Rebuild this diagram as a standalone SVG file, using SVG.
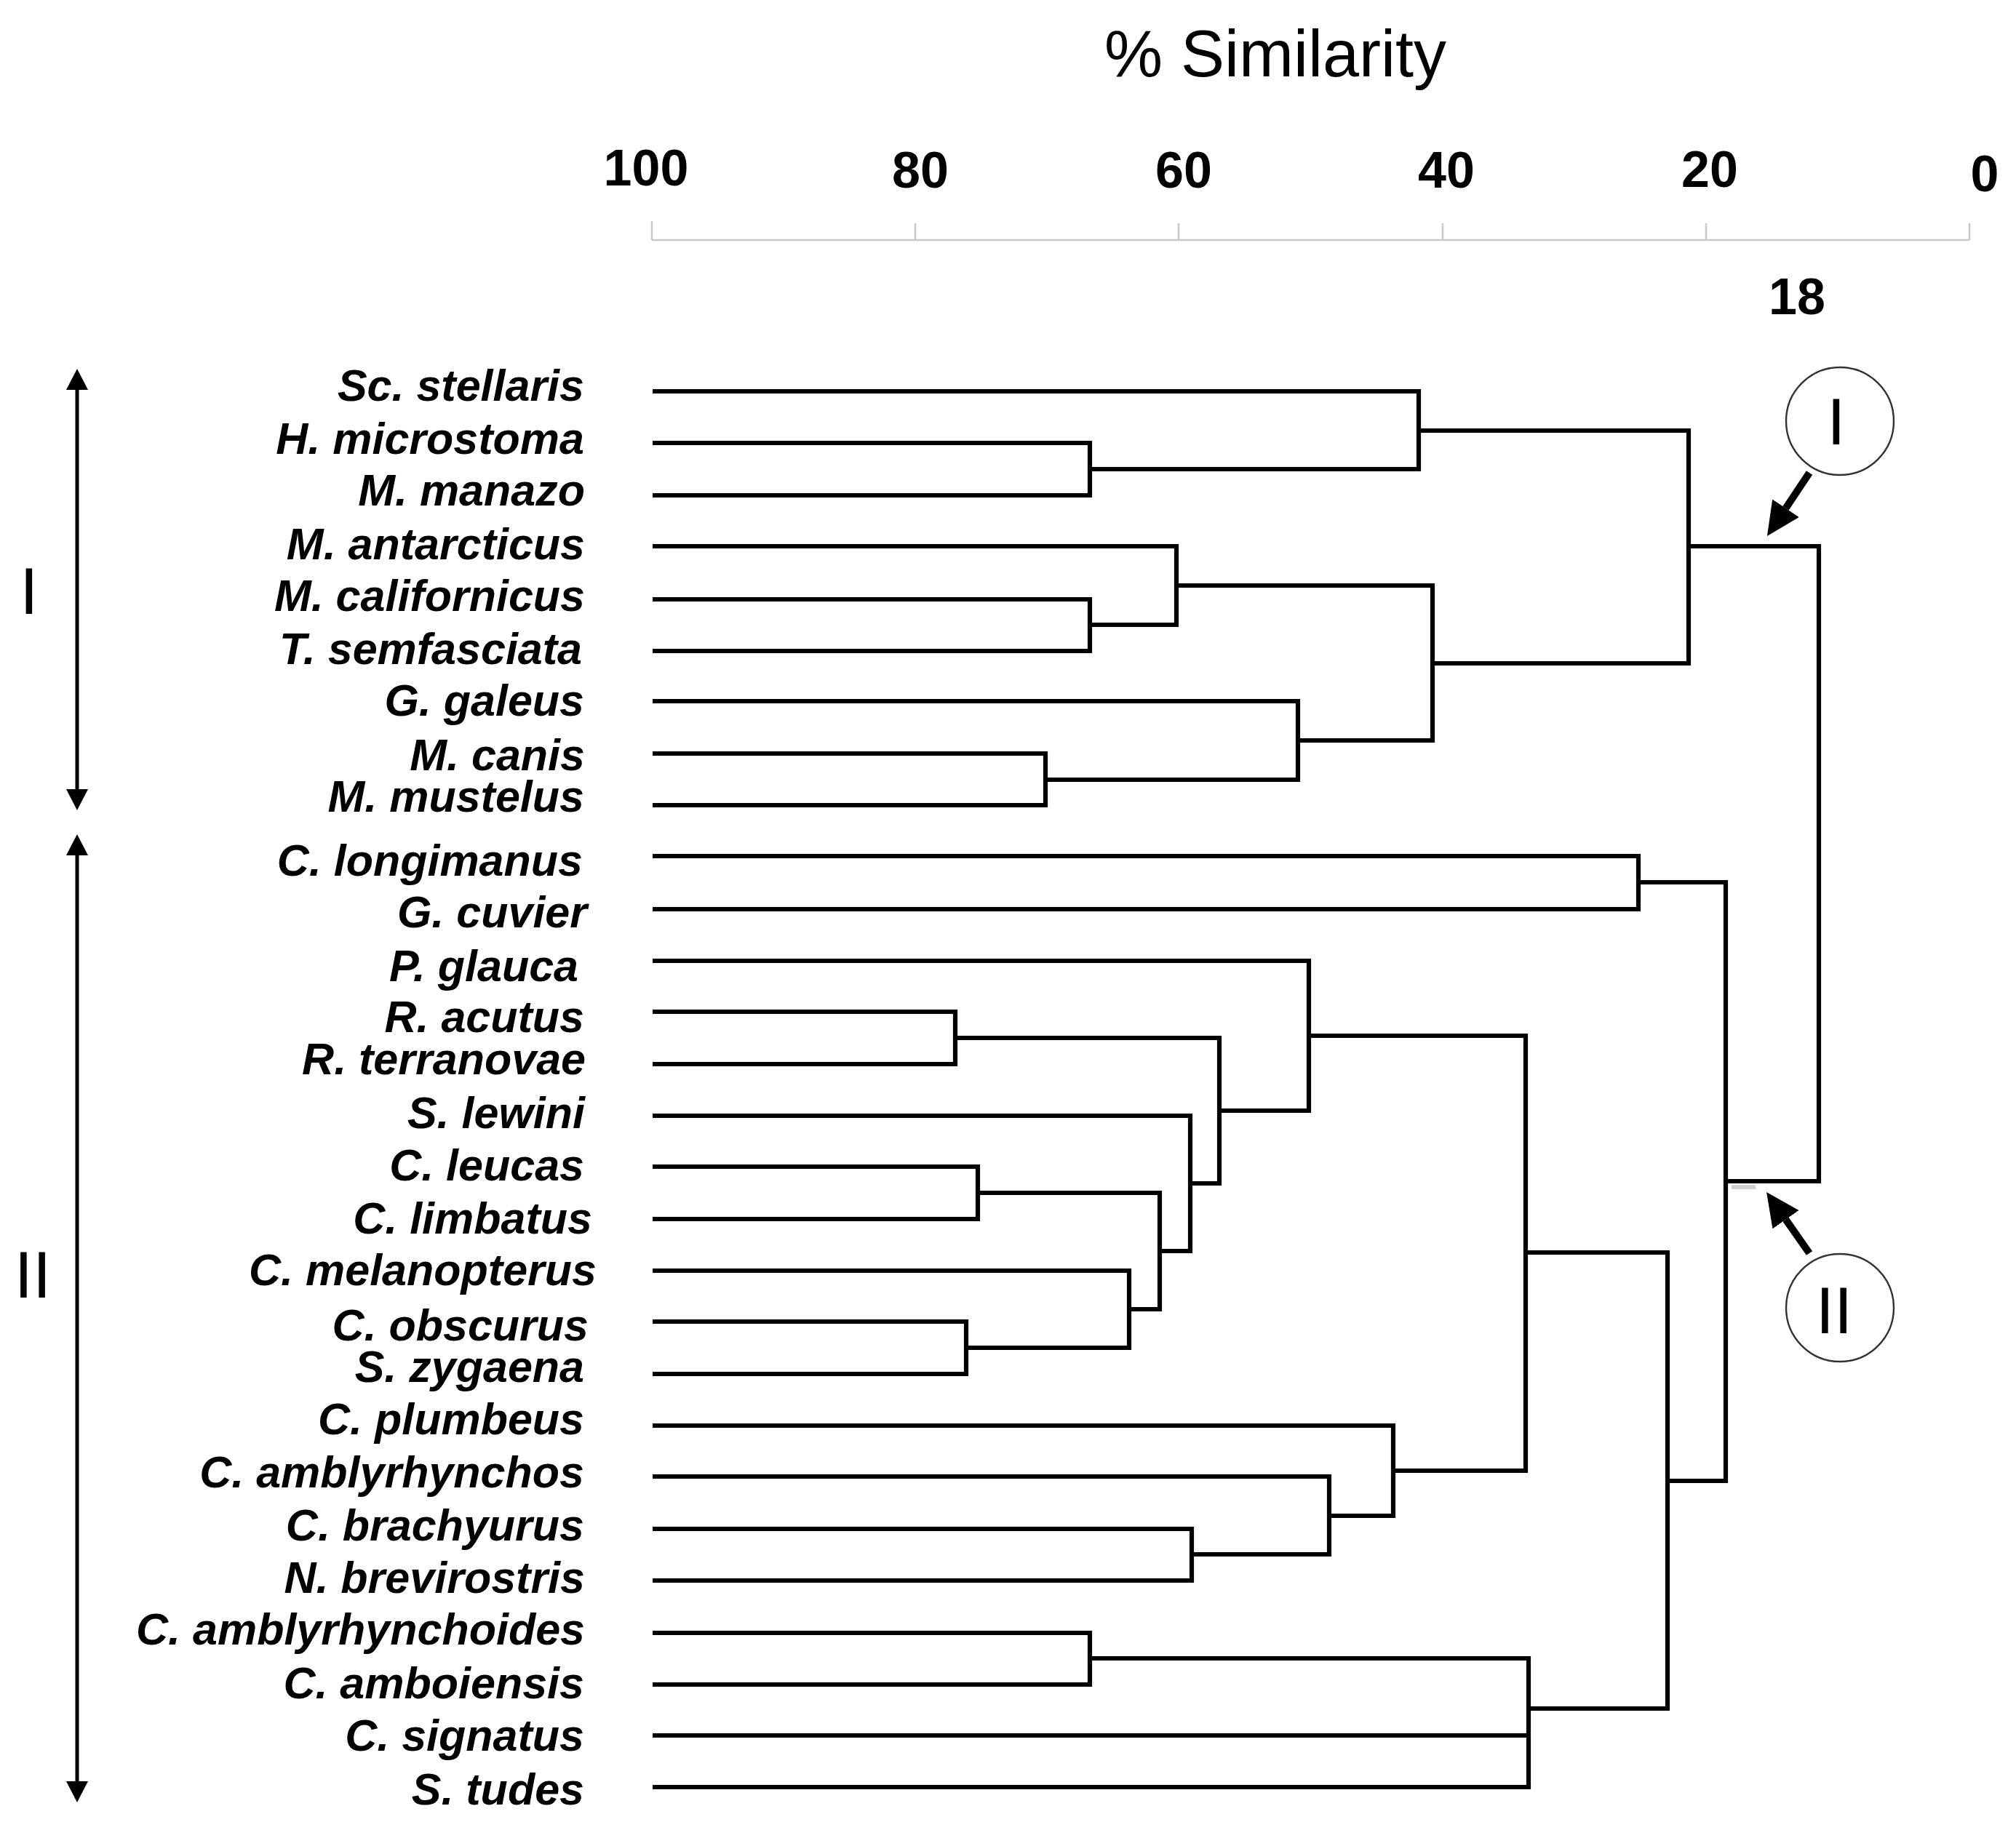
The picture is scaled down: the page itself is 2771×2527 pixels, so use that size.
<svg xmlns="http://www.w3.org/2000/svg" width="2771" height="2527" viewBox="0 0 2771 2527">
<style>
.lbl{font-family:"Liberation Sans",Arial,sans-serif;font-weight:bold;font-style:italic;font-size:61px;fill:#000;text-anchor:end}
.tick{font-family:"Liberation Sans",Arial,sans-serif;font-weight:bold;font-size:70px;fill:#000;text-anchor:middle}
.title{font-family:"Liberation Sans",Arial,sans-serif;font-size:90px;fill:#000;text-anchor:middle}
.roman{font-family:"Liberation Sans",Arial,sans-serif;font-size:91px;fill:#000;text-anchor:middle}
.tree path{fill:none;stroke:#000;stroke-width:6.2;stroke-linejoin:miter}
.axis{stroke:#c8c8c8;stroke-width:2.5;fill:none}
.ring{fill:none;stroke:#333;stroke-width:2.4}
</style>
<defs>
<marker id="headS" viewBox="0 0 29 30" refX="0" refY="15" markerWidth="29" markerHeight="30" markerUnits="userSpaceOnUse" orient="auto-start-reverse">
<path d="M0,0 L29,15 L0,30 z" fill="#000"/>
</marker>
<marker id="headL" viewBox="0 0 46 44" refX="0" refY="22" markerWidth="46" markerHeight="44" markerUnits="userSpaceOnUse" orient="auto">
<path d="M0,0 L46,22 L0,44 z" fill="#000"/>
</marker>
</defs>
<rect width="2771" height="2527" fill="#fff"/>

<g id="axis">
<text class="title" x="1753" y="105">% Similarity</text>
<text class="tick" x="888" y="255">100</text>
<text class="tick" x="1265" y="258">80</text>
<text class="tick" x="1627" y="258">60</text>
<text class="tick" x="1988" y="258">40</text>
<text class="tick" x="2350" y="257">20</text>
<text class="tick" x="2728" y="263">0</text>
<path class="axis" d="M896,330 H2707 M896,304 V330 M1258,307 V330 M1620,307 V330 M1983,307 V330 M2345,307 V330 M2707,307 V330"/>
<text class="tick" x="2470" y="432">18</text>
</g>

<g id="group-arrows">
<line x1="106" y1="536" x2="106" y2="1085" stroke="#000" stroke-width="5" marker-start="url(#headS)" marker-end="url(#headS)"/>
<text class="roman" x="40" y="844">I</text>
<line x1="106" y1="1176" x2="106" y2="2449" stroke="#000" stroke-width="5" marker-start="url(#headS)" marker-end="url(#headS)"/>
<text class="roman" x="45" y="1784">II</text>
</g>

<g id="leaves">
<g id="n1"><text class="lbl" x="803" y="551">Sc. stellaris</text></g>
<g id="n2"><text class="lbl" x="803" y="624">H. microstoma</text></g>
<g id="n3"><text class="lbl" x="804" y="695">M. manazo</text></g>
<g id="n4"><text class="lbl" x="804" y="769">M. antarcticus</text></g>
<g id="n5"><text class="lbl" x="804" y="840">M. californicus</text></g>
<g id="n6"><text class="lbl" x="800" y="913">T. semfasciata</text></g>
<g id="n7"><text class="lbl" x="803" y="984">G. galeus</text></g>
<g id="n8"><text class="lbl" x="804" y="1059">M. canis</text></g>
<g id="n9"><text class="lbl" x="803" y="1116">M. mustelus</text></g>
<g id="n10"><text class="lbl" x="801" y="1204">C. longimanus</text></g>
<g id="n11"><text class="lbl" x="807" y="1275">G. cuvier</text></g>
<g id="n12"><text class="lbl" x="795" y="1349">P. glauca</text></g>
<g id="n13"><text class="lbl" x="803" y="1419">R. acutus</text></g>
<g id="n14"><text class="lbl" x="805" y="1477">R. terranovae</text></g>
<g id="n15"><text class="lbl" x="804" y="1551">S. lewini</text></g>
<g id="n16"><text class="lbl" x="803" y="1623">C. leucas</text></g>
<g id="n17"><text class="lbl" x="814" y="1696">C. limbatus</text></g>
<g id="n18"><text class="lbl" x="820" y="1767">C. melanopterus</text></g>
<g id="n19"><text class="lbl" x="809" y="1843">C. obscurus</text></g>
<g id="n20"><text class="lbl" x="803" y="1900">S. zygaena</text></g>
<g id="n21"><text class="lbl" x="803" y="1972">C. plumbeus</text></g>
<g id="n22"><text class="lbl" x="803" y="2045">C. amblyrhynchos</text></g>
<g id="n23"><text class="lbl" x="803" y="2118">C. brachyurus</text></g>
<g id="n24"><text class="lbl" x="804" y="2190">N. brevirostris</text></g>
<g id="n25"><text class="lbl" x="804" y="2261">C. amblyrhynchoides</text></g>
<g id="n26"><text class="lbl" x="803" y="2335">C. amboiensis</text></g>
<g id="n27"><text class="lbl" x="803" y="2407">C. signatus</text></g>
<g id="n28"><text class="lbl" x="803" y="2481">S. tudes</text></g>
</g>

<g id="connectors" class="tree">
<path d="M897,609 H1498 V681 H897"/>
<path d="M897,538 H1950 V645 H1498"/>
<path d="M897,824 H1498 V895 H897"/>
<path d="M897,751 H1617 V859 H1498"/>
<path d="M897,1036 H1437 V1107 H897"/>
<path d="M897,964 H1784 V1072 H1437"/>
<path d="M1617,805 H1969 V1018 H1784"/>
<path d="M1950,592 H2321 V912 H1969"/>
<path d="M2321,751 H2500 V1624 H2372"/>
<path d="M897,1177 H2252 V1250 H897"/>
<path d="M897,1391 H1313 V1463 H897"/>
<path d="M897,1817 H1328 V1889 H897"/>
<path d="M897,1747 H1552 V1853 H1328"/>
<path d="M897,1604 H1344 V1676 H897"/>
<path d="M1344,1640 H1594 V1800 H1552"/>
<path d="M897,1534 H1636 V1720 H1594"/>
<path d="M1313,1427 H1676 V1627 H1636"/>
<path d="M897,1321 H1799 V1527 H1676"/>
<path d="M897,2102 H1638 V2173 H897"/>
<path d="M897,2030 H1827 V2137 H1638"/>
<path d="M897,1960 H1915 V2084 H1827"/>
<path d="M1799,1424 H2097 V2022 H1915"/>
<path d="M897,2245 H1498 V2316 H897"/>
<path d="M1498,2280 H2101 V2457 H897"/>
<path d="M897,2386 H2101"/>
<path d="M2097,1722 H2292 V2349 H2101"/>
<path d="M2252,1213 H2372 V2036 H2292"/>
</g>
<rect x="2380" y="1629" width="33" height="6" fill="#999" opacity="0.45"/>

<g id="cluster-I">
<circle class="ring" cx="2529" cy="579" r="74"/>
<text class="roman" x="2524" y="611">I</text>
<line x1="2487" y1="650" x2="2454.5" y2="698.7" stroke="#000" stroke-width="10" marker-end="url(#headL)"/>
</g>
<g id="cluster-II">
<circle class="ring" cx="2529" cy="1798" r="74"/>
<text class="roman" x="2521" y="1833">II</text>
<line x1="2487" y1="1723" x2="2454.5" y2="1676.7" stroke="#000" stroke-width="10" marker-end="url(#headL)"/>
</g>
</svg>
